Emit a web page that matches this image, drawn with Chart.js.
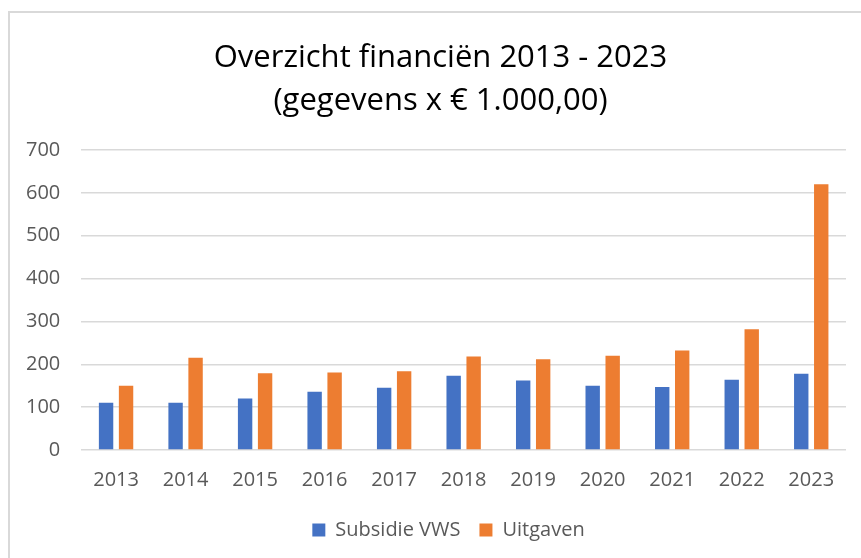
<!DOCTYPE html>
<html>
<head>
<meta charset="utf-8">
<script src="https://cdn.jsdelivr.net/npm/chart.js@4/dist/chart.umd.min.js"></script>
<style>
  html, body { margin: 0; padding: 0; background: #fff; width: 861px; height: 558px; overflow: hidden; }
  #wrap { position: absolute; left: 0; top: 0; width: 861px; height: 558px; }
  #frame { position: absolute; left: 8px; top: 11px; width: 900px; height: 600px; border: 2px solid #D9D9D9; box-sizing: border-box; pointer-events: none; }
</style>
</head>
<body>
<div id="wrap"><canvas id="c" width="861" height="558"></canvas></div>
<div id="frame"></div>
<script>
const categories = ['2013','2014','2015','2016','2017','2018','2019','2020','2021','2022','2023'];
const subsidieVWS = [110, 110, 120, 136, 145, 173, 162, 150, 147, 164, 178];
const uitgaven = [150, 215, 179, 181, 184, 218, 212, 220, 232, 282, 620];
const seriesNames = ['Subsidie VWS', 'Uitgaven'];
const titleLines = ['Overzicht financiën 2013 - 2023', '(gegevens x € 1.000,00)'];
const yTicks = [0, 100, 200, 300, 400, 500, 600, 700];

const FONT = "'Open Sans', 'Noto Sans', sans-serif";
const GRAY = '#595959';

// shifts title/legend horizontally like the reference and widens the legend item gap
const shiftPlugin = {
  id: 'shiftBlocks',
  afterLayout(chart) {
    const t = chart.titleBlock;
    if (t) { t.left += 15; t.right += 15; }
    const lg = chart.legend;
    if (lg) {
      lg.options.labels.padding = 19;
      lg.top -= 9;
      lg.height = lg.bottom - lg.top;
      lg.left += 12; lg.right += 12;
    }
  }
};

new Chart(document.getElementById('c'), {
  type: 'bar',
  data: {
    labels: categories,
    datasets: [
      { label: seriesNames[0], data: subsidieVWS, backgroundColor: '#4472C4', categoryPercentage: 0.575, barPercentage: 0.72 },
      { label: seriesNames[1], data: uitgaven, backgroundColor: '#ED7D31', categoryPercentage: 0.575, barPercentage: 0.72 }
    ]
  },
  plugins: [shiftPlugin],
  options: {
    responsive: false,
    animation: false,
    devicePixelRatio: 1,
    layout: { padding: { left: 5, right: 15, top: 0, bottom: 10 } },
    plugins: {
      title: {
        display: true,
        text: titleLines,
        color: '#000',
        font: { family: FONT, size: 31, weight: 'normal', lineHeight: 1.387 },
        padding: { top: 37, bottom: 27 }
      },
      legend: {
        display: true,
        position: 'bottom',
        labels: {
          color: GRAY,
          font: { family: FONT, size: 20 },
          boxWidth: 13,
          boxHeight: 13,
          padding: 8
        }
      },
      tooltip: { enabled: false }
    },
    scales: {
      x: {
        grid: { display: false, drawTicks: false },
        border: { display: false },
        ticks: { color: GRAY, font: { family: FONT, size: 20 }, padding: 18 }
      },
      y: {
        min: 0,
        max: 700,
        afterBuildTicks: (axis) => { axis.ticks = yTicks.map(v => ({ value: v })); },
        grid: { color: '#D9D9D9', lineWidth: 1.5, drawTicks: false },
        border: { display: false },
        ticks: { color: GRAY, font: { family: FONT, size: 20 }, padding: 21 }
      }
    }
  }
});
</script>
</body>
</html>
